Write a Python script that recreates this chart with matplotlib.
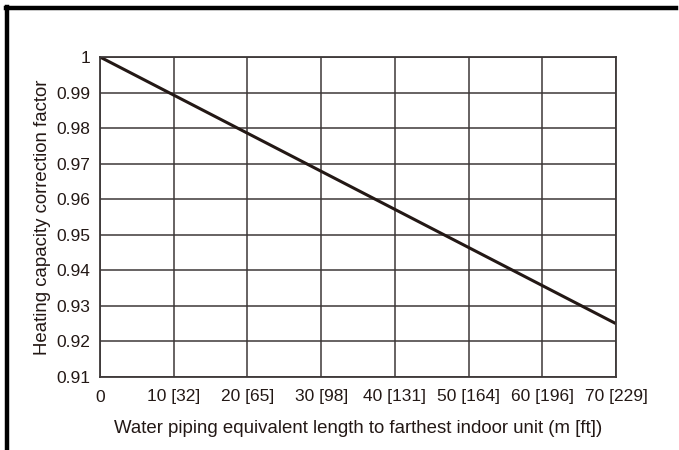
import matplotlib
matplotlib.use("Agg")
from matplotlib import pyplot as plt
from matplotlib.lines import Line2D

# data
longitud = [0, 70]
factor = [1.0, 0.925]

xticks = [0, 10, 20, 30, 40, 50, 60, 70]
xlabels = ["0", "10 [32]", "20 [65]", "30 [98]", "40 [131]", "50 [164]", "60 [196]", "70 [229]"]
yticks = [0.91, 0.92, 0.93, 0.94, 0.95, 0.96, 0.97, 0.98, 0.99, 1.0]
ylabels = ["0.91", "0.92", "0.93", "0.94", "0.95", "0.96", "0.97", "0.98", "0.99", "1"]

negro = "#231815"
plt.rcParams["font.family"] = ["Liberation Sans", "DejaVu Sans"]

fig = plt.figure(figsize=(6.79, 4.5), dpi=100)
ax = fig.add_axes([100/679, 1 - 377/450, 516/679, 320/450])

ax.plot(longitud, factor, color=negro, linewidth=2.2, solid_capstyle="butt")

ax.set_xlim(0, 70)
ax.set_ylim(0.91, 1.0)
ax.set_xticks(xticks)
ax.set_xticklabels(xlabels)
ax.set_yticks(yticks)
ax.set_yticklabels(ylabels)
ax.tick_params(length=0, labelsize=12.5, labelcolor=negro)
ax.tick_params(axis="y", pad=7)
ax.tick_params(axis="x", pad=9)
ax.grid(True, color="#3d3838", linewidth=1.1)
for s in ax.spines.values():
    s.set_color("#3d3838")
    s.set_linewidth(1.3)

ax.set_xlabel("Water piping equivalent length to farthest indoor unit (m [ft])",
              fontsize=13.4, color=negro, labelpad=11)
ax.set_ylabel("Heating capacity correction factor", fontsize=13.4, color=negro, labelpad=4)

# marco exterior (solo arriba e izquierda)
fig.add_artist(Line2D([7/679, 7/679], [0, 1 - 7/450], color="black", linewidth=3.2,
                      transform=fig.transFigure))
fig.add_artist(Line2D([5.5/679, 676/679], [1 - 8/450, 1 - 8/450], color="black", linewidth=3.2,
                      transform=fig.transFigure))

fig.savefig("out.png", dpi=100)
